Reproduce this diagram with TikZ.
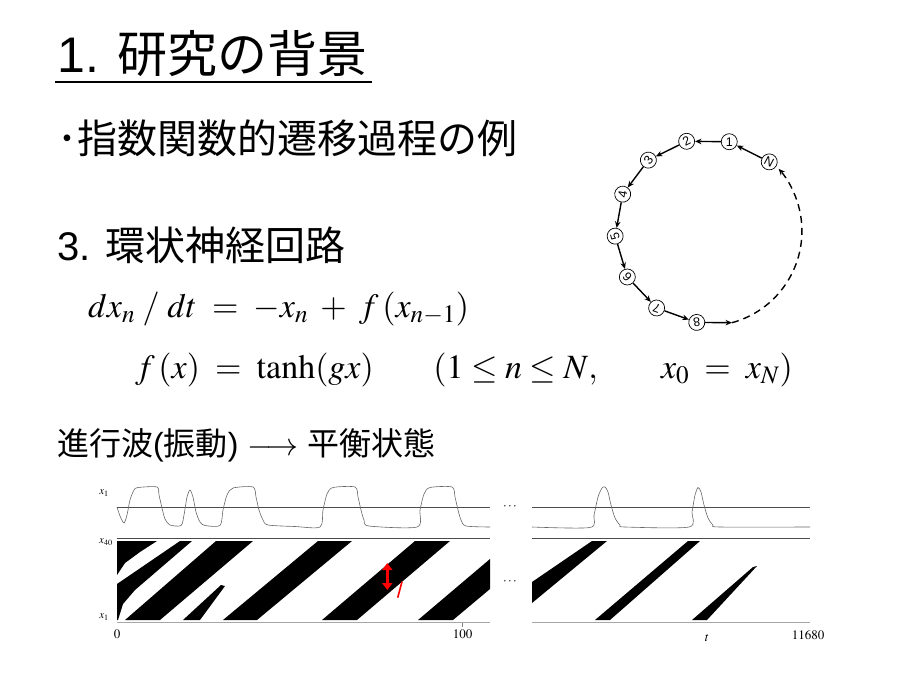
\documentclass[tikz,border=0pt]{standalone}
\usepackage{mathptmx}
\usepackage[no-math]{fontspec}
\setmainfont{Liberation Sans}
\newfontfamily\jp{Noto Sans CJK JP}
\usetikzlibrary{arrows,arrows.meta,positioning}

\begin{document}
\begin{tikzpicture}[x=1pt,y=-1pt,>=stealth]
\tikzstyle{heading}=[anchor=base west,inner sep=0pt]
\tikzstyle{ringnode}=[circle,draw,line width=0.7pt,minimum size=16pt,inner sep=0pt,font=\fontsize{12.5}{12.5}\selectfont]
\tikzstyle{ringarrow}=[-{Stealth[length=6.5pt,width=5.5pt]},line width=1.4pt]
\tikzstyle{trace}=[black!60,line width=0.6pt]
\tikzstyle{frameline}=[black!70,line width=0.8pt]
\tikzstyle{axisline}=[black!35,line width=1.6pt]
\tikzstyle{band}=[fill=black]
\tikzstyle{plotlabel}=[inner sep=0pt,font=\fontsize{13}{13}\selectfont]
\tikzstyle{varlabel}=[inner sep=0pt,font=\fontsize{11}{11}\selectfont]

\useasboundingbox (0,0) rectangle (920,690);

%--- headings ---
\node[heading,font=\fontsize{50}{50}\selectfont] (title) at (57,73) {1. {\jp 研究の背景}};
\draw[line width=2.4pt] ([xshift=-2pt,yshift=-9pt]title.base west) -- ([xshift=4pt,yshift=-9pt]title.base east);
\node[heading,font=\fontsize{40}{40}\selectfont] (example) at (57,153) {\jp ･指数関数的遷移過程の例};
\node[heading,font=\fontsize{40}{40}\selectfont] (ring) at (57,260) {3. {\jp 環状神経回路}};

%--- equations ---
\node[heading,font=\fontsize{34}{34}\selectfont] (eqrate) at (88,317)
  {$dx_{n}\;/\;dt\;=\;-x_{n}\;+\;f\,(x_{n-1})$};
\node[heading,font=\fontsize{34}{34}\selectfont] (eqfunc) at (135,378)
  {$f\,(x)\;=\;\tanh(gx)\hspace{1.75em}(1\le n\le N,\hspace{1.75em} x_{0}\;=\;x_{N})$};

\node[heading,font=\fontsize{32}{32}\selectfont] (transit) at (57,455)
  {{\jp 進行波}({\jp 振動}) $\longrightarrow$ {\jp 平衡状態}};

%--- ring network ---
\begin{scope}[shift={(707,231)}]
\foreach \k/\a in {1/76,2/102.8,3/129.6,4/156.4,5/183.2,6/210,7/236.8,8/263.6}
  \node[ringnode,rotate=\a-76] (r\k) at (-\a:92) {\k};
\node[ringnode,rotate=-28] (rN) at (-48:93) {N};
\coordinate (dashstart) at (25,91.7);
\end{scope}

\foreach \a/\b in {N/1,1/2,2/3,3/4,4/5,5/6,6/7,7/8}
  \draw[ringarrow] (r\a) -- (r\b);
\draw[ringarrow] (r8) -- (dashstart);
\draw[ringarrow,dash pattern=on 7pt off 5pt] (dashstart) arc[start angle=-74.7,end angle=41,radius=95pt];

%--- time series x_1 ---
\draw[frameline] (117,507) -- (490,507);
\draw[frameline] (532,507) -- (810,507);
\draw[trace] plot[smooth,tension=0.45] coordinates {
  (117,507) (120,516) (124,523) (127,515) (130,500) (134,490) (138,487.5) (157,487)
  (159,495) (162,508) (165,519) (170,525) (181,525.5) (184,515) (187,497) (190,490)
  (193,497) (196,512) (200,522) (205,525.5) (220,525.5) (223,510) (227,495) (233,488)
  (253,487) (256,497) (259,510) (263,520) (268,525) (295,526.5) (320,527) (323,510)
  (327,494) (333,487.5) (355,487) (358,497) (361,510) (364,520) (369,526) (417,527)
  (420,510) (424,494) (430,487.5) (452,487) (455,497) (458,510) (461,520) (466,526) (490,527)};
\draw[trace] plot[smooth,tension=0.45] coordinates {
  (532,527) (590,527.5) (594,515) (598,497) (602,488) (605,487) (608,492) (611,505)
  (615,518) (620,525) (625,527) (689,527) (692,512) (695,495) (698,487.5) (701,492)
  (704,505) (708,518) (713,525) (720,527) (810,527)};

%--- space-time raster ---
\draw[frameline] (117,538.3) -- (490,538.3);
\draw[frameline] (532,538.3) -- (810,538.3);
\fill[band] (117,541) -- (157,541) -- (140,552) -- (125,563) -- (119,572) -- (117,575) -- cycle;
\fill[band] (180,541) -- (192,541) -- (135,590) -- (123,604) -- (118,620) -- (117,620) -- (117,584) -- cycle;
\fill[band] (216,541) -- (253,541) -- (160,620) -- (125,620) -- cycle;
\fill[band] (221,585) -- (225,586) -- (200,620) -- (183,620) -- cycle;
\fill[band] (318,541) -- (352,541) -- (257,620) -- (223,620) -- cycle;
\fill[band] (415,541) -- (450,541) -- (357,620) -- (322,620) -- cycle;
\fill[band] (418,620) -- (453,620) -- (490,589) -- (490,559) -- cycle;
\fill[band] (592,541) -- (607,541) -- (532,603) -- (532,582) -- cycle;
\fill[band] (688,541) -- (700,541) -- (610,620) -- (595,620) -- cycle;
\fill[band] (692,620) -- (707,620) -- (757,566) -- (753,567) -- cycle;

% wavelength marker
\draw[red,line width=2.6pt,{Triangle[width=10pt,length=7pt]}-{Triangle[width=10pt,length=7pt]}] (387.3,563) -- (387.3,590);
\draw[red,line width=1.6pt] (402,581.7) -- (397.7,597.7);

%--- axes ---
\draw[axisline] (117,622.5) -- (490,622.5);
\draw[axisline] (532,622.5) -- (810,622.5);
\draw[black!50,line width=0.6pt] (462.7,622.5) -- (462.7,626.5);

%--- labels ---
\node[varlabel] (xtop) at (104,493) {$x_{1}$};
\node[varlabel] (xforty) at (106,542) {$x_{40}$};
\node[varlabel] (xbottom) at (104,617) {$x_{1}$};
\node[plotlabel] (tzero) at (117,634) {$0$};
\node[plotlabel] (thundred) at (462.7,634) {$100$};
\node[plotlabel] (tname) at (707,638) {$t$};
\node[plotlabel] (tend) at (808,635) {$11680$};
\node[plotlabel] (gaptop) at (510,507) {$\cdots$};
\node[plotlabel] (gapbottom) at (510,582) {$\cdots$};

\end{tikzpicture}
\end{document}
